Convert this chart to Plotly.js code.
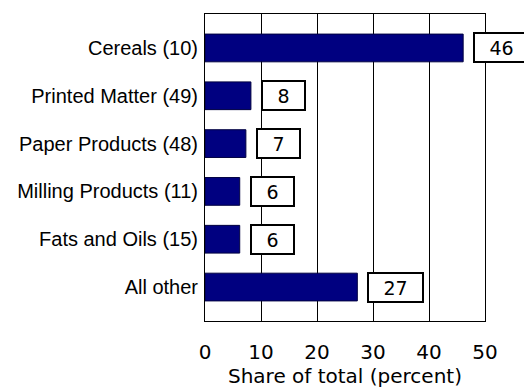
<!DOCTYPE html>
<html>
<head>
<meta charset="utf-8">
<script src="https://cdn.plot.ly/plotly-3.0.1.min.js"></script>
<style>html,body{margin:0;padding:0;background:#fff;}</style>
</head>
<body>
<div id="chart" style="width:524px;height:388px;"></div>
<script>
const categories = ["Cereals (10)", "Printed Matter (49)", "Paper Products (48)", "Milling Products (11)", "Fats and Oils (15)", "All other"];
const shares = [46.1, 8.2, 7.3, 6.2, 6.2, 27.2];
const shareLabels = ["46", "8", "7", "6", "6", "27"];
const xTicks = [0, 10, 20, 30, 40, 50];

const trace = {
  type: 'bar',
  orientation: 'h',
  x: shares,
  y: categories,
  width: 0.58,
  marker: {color: '#000080', line: {color: '#000040', width: 1}},
  hoverinfo: 'none'
};

const annotations = categories.map((c, i) => ({
  x: shares[i],
  y: c,
  xref: 'x',
  yref: 'y',
  text: shareLabels[i],
  showarrow: false,
  xanchor: 'left',
  xshift: 10,
  width: shareLabels[i].length > 1 ? 53 : 41,
  height: 27,
  align: 'center',
  bgcolor: '#ffffff',
  bordercolor: '#000000',
  borderwidth: 2,
  borderpad: 0,
  font: {family: 'DejaVu Sans, Verdana, sans-serif', size: 19, color: '#000'}
}));

const layout = {
  width: 524,
  height: 388,
  margin: {l: 205, r: 39, t: 14, b: 67},
  paper_bgcolor: '#fff',
  plot_bgcolor: '#fff',
  showlegend: false,
  bargap: 0.4,
  xaxis: {
    range: [0, 50],
    tickvals: xTicks,
    ticktext: xTicks.map(String),
    showgrid: true,
    gridcolor: '#000',
    gridwidth: 1,
    zeroline: false,
    showline: true,
    linecolor: '#000',
    linewidth: 1,
    mirror: true,
    ticks: '',
    ticklabelstandoff: 13,
    tickfont: {family: 'DejaVu Sans, Verdana, sans-serif', size: 20, color: '#000'},
    title: {text: 'Share of total (percent)', standoff: 12, font: {family: 'DejaVu Sans, Verdana, sans-serif', size: 20, color: '#000'}}
  },
  yaxis: {
    type: 'category',
    range: [5.71, -0.71],
    showgrid: false,
    zeroline: false,
    showline: true,
    linecolor: '#000',
    linewidth: 1,
    mirror: true,
    ticks: '',
    ticklabelstandoff: 2,
    tickfont: {family: 'Liberation Sans, Arial, sans-serif', size: 20, color: '#000'}
  },
  annotations: annotations
};

Plotly.newPlot('chart', [trace], layout, {staticPlot: true, displayModeBar: false});
</script>
</body>
</html>
